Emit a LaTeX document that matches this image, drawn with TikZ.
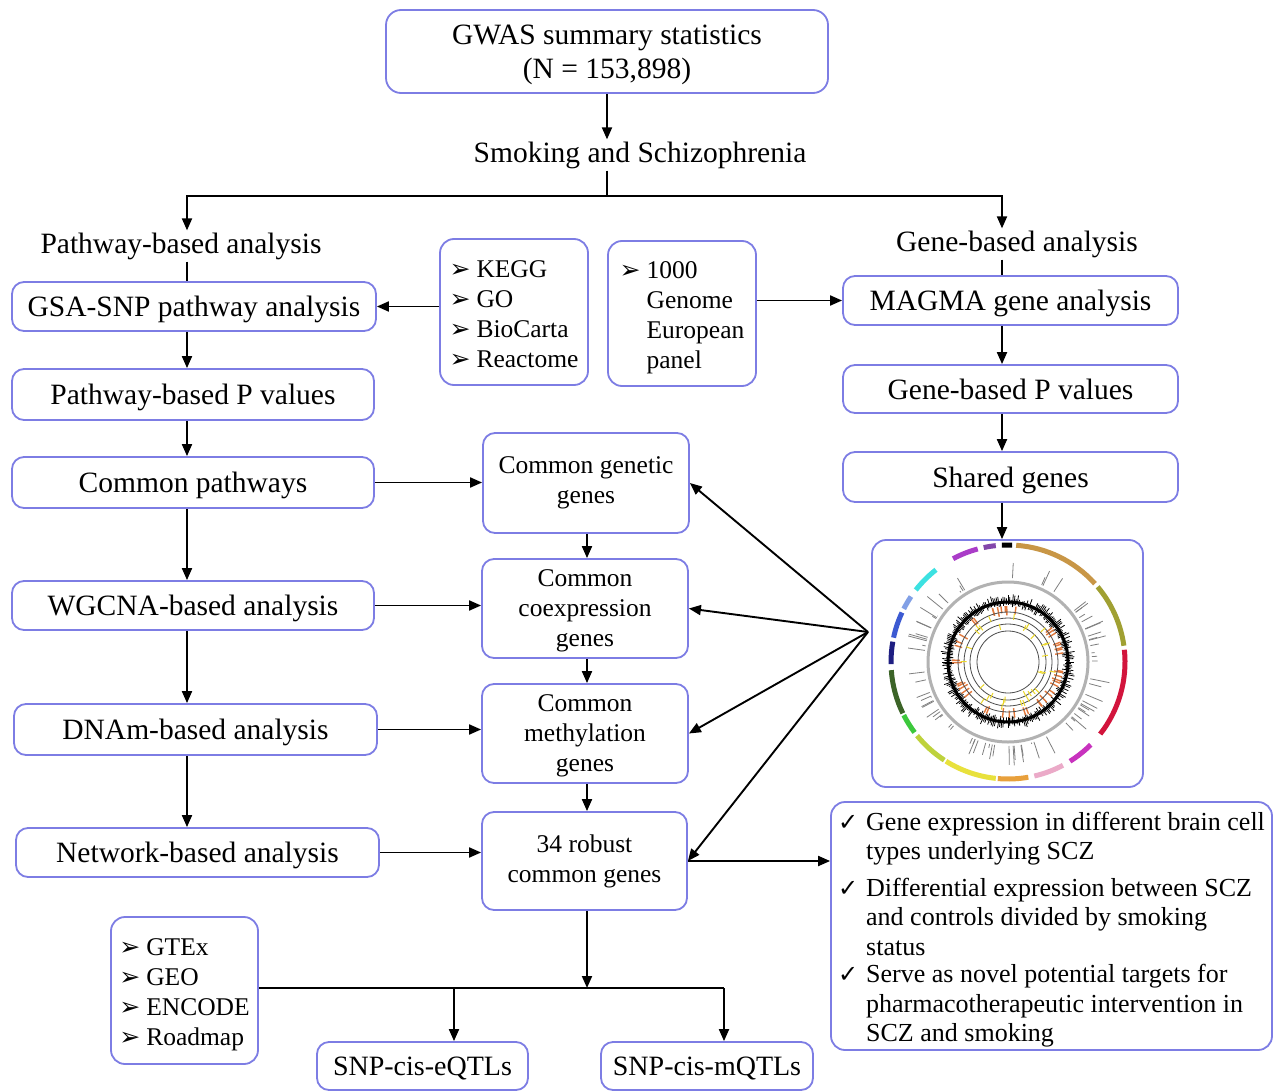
\documentclass[tikz,border=0pt]{standalone}
\usepackage{fontspec}
\setmainfont{Liberation Serif}
\newfontfamily\dvs{DejaVu Sans}
\usetikzlibrary{arrows.meta}
\definecolor{bord}{RGB}{125,125,228}
\definecolor{ch1}{RGB}{200,150,70}
\definecolor{ch2}{RGB}{160,160,50}
\definecolor{ch3}{RGB}{210,20,60}
\definecolor{ch4}{RGB}{200,50,190}
\definecolor{ch5}{RGB}{235,170,200}
\definecolor{ch6}{RGB}{232,160,60}
\definecolor{ch7}{RGB}{232,225,60}
\definecolor{ch8}{RGB}{190,210,60}
\definecolor{ch9}{RGB}{60,200,60}
\definecolor{ch10}{RGB}{60,100,40}
\definecolor{ch11}{RGB}{30,30,130}
\definecolor{ch12}{RGB}{60,90,210}
\definecolor{ch13}{RGB}{130,160,230}
\definecolor{ch14}{RGB}{60,225,225}
\definecolor{ch15}{RGB}{170,60,200}
\definecolor{ch16}{RGB}{130,70,170}
\definecolor{orng}{RGB}{225,120,60}
\definecolor{yel}{RGB}{235,215,40}
\newcommand\mk{{\dvs\fontsize{25}{20}\selectfont ➢}}
\newcommand\ck{{\dvs\fontsize{24}{20}\selectfont ✓}}
\newcommand\lowered[1]{\raisebox{-4pt}[\height][\depth]{#1}}
\begin{document}
\begin{tikzpicture}[x=1pt,y=-1pt,
  box/.style={draw=bord,line width=1.8pt,rounded corners=12pt,align=center,inner sep=0pt,fill=white},
  bigfont/.style={font=\fontsize{29.5}{34}\selectfont},
  big/.style={bigfont,text depth=0pt},
  mid/.style={font=\fontsize{25.5}{30}\selectfont},
  arr/.style={line width=1.9pt,-{Triangle[length=12pt,width=10pt]}},
  ln/.style={line width=1.9pt},
  lbl/.style={bigfont,inner sep=2pt}]
\useasboundingbox[fill=white] (0,0) rectangle (1276,1091);

\coordinate (lc) at (187,0);
\coordinate (mc) at (587,0);
\coordinate (rc) at (1002,0);
\coordinate (sp) at (607,196);
\coordinate (cv) at (868,632);
\coordinate (bj) at (587,988);
\coordinate (ea) at (454,988);
\coordinate (ma) at (724,988);

% top
\node[box,big,minimum width=442pt,minimum height=83pt,rounded corners=15pt] (gwas) at (607,51.5) {GWAS summary statistics\\(N = 153,898)};
\node[lbl] (smk) at (640,155) {Smoking and Schizophrenia};
\node[lbl] (pwt) at (181,246) {Pathway-based analysis};
\node[lbl] (gbt) at (1017,244) {Gene-based analysis};

% left column
\node[box,big,minimum width=364pt,minimum height=49pt] (gsa) at (194,306.5) {GSA-SNP pathway analysis};
\node[box,big,minimum width=362pt,minimum height=51pt] (ppv) at (193,394.5) {Pathway-based P values};
\node[box,big,minimum width=362pt,minimum height=51pt] (cp) at (193,482.5) {Common pathways};
\node[box,big,minimum width=362pt,minimum height=49pt] (wg) at (193,605.5) {WGCNA-based analysis};
\node[box,big,minimum width=363pt,minimum height=51pt] (dn) at (195.5,729.5) {DNAm-based analysis};
\node[box,big,minimum width=363pt,minimum height=49pt] (nw) at (197.5,852.5) {Network-based analysis};

% database boxes
\node[box,mid,minimum width=148pt,minimum height=146pt,rounded corners=14pt] (kegg) at (514,312) {\lowered{\begin{tabular}{@{}l@{\hspace{6pt}}l@{}}\mk&KEGG\\\mk&GO\\\mk&BioCarta\\\mk&Reactome\end{tabular}}};
\node[box,mid,minimum width=148pt,minimum height=145pt,rounded corners=14pt] (kg) at (682,313.5) {\lowered{\begin{tabular}{@{}l@{\hspace{6pt}}l@{}}\mk&1000\\&Genome\\&European\\&panel\end{tabular}}};

% right column
\node[box,big,minimum width=335pt,minimum height=49pt] (magma) at (1010.5,300.5) {MAGMA gene analysis};
\node[box,big,minimum width=335pt,minimum height=48pt] (gpv) at (1010.5,389) {Gene-based P values};
\node[box,big,minimum width=335pt,minimum height=50pt] (shg) at (1010.5,477) {Shared genes};
\node[box,minimum width=271pt,minimum height=247pt,rounded corners=14pt] (circ) at (1007.5,663.5) {};

% middle column
\node[box,mid,minimum width=206pt,minimum height=100pt] (cgg) at (586,483) {Common genetic\\genes};
\node[box,mid,text depth=0pt,minimum width=206pt,minimum height=99pt] (coex) at (585,608.5) {Common\\coexpression\\genes};
\node[box,mid,text depth=0pt,minimum width=206pt,minimum height=99pt] (meth) at (585,733.5) {Common\\methylation\\genes};
\node[box,mid,minimum width=205pt,minimum height=98pt] (rob) at (584.5,861) {34 robust\\common genes};

% outcome list
\node[box,font=\fontsize{26}{29.5}\selectfont,minimum width=441pt,minimum height=248pt,rounded corners=14pt] (lst) at (1051.5,926) {\lowered{\begin{tabular}{@{}l@{\hspace{8pt}}l@{}}\ck & Gene expression in different brain cell\\ & types underlying SCZ\\[7pt] \ck & Differential expression between SCZ\\ & and controls divided by smoking\\ & status\\[-2pt] \ck & Serve as novel potential targets for\\ & pharmacotherapeutic intervention in\\ & SCZ and smoking\end{tabular}}};

% bottom
\node[box,mid,minimum width=147pt,minimum height=147pt,rounded corners=14pt] (gtex) at (184.5,990.5) {\lowered{\begin{tabular}{@{}l@{\hspace{6pt}}l@{}}\mk&GTEx\\\mk&GEO\\\mk&ENCODE\\\mk&Roadmap\end{tabular}}};
\node[box,font=\fontsize{28}{32}\selectfont,text depth=0pt,minimum width=211pt,minimum height=48pt] (eq) at (422.5,1066) {SNP-cis-eQTLs};
\node[box,font=\fontsize{28}{32}\selectfont,text depth=0pt,minimum width=212pt,minimum height=48pt] (mq) at (707,1066) {SNP-cis-mQTLs};

% connectors top
\draw[arr] (gwas.south) -- (gwas.south |- smk.north);
\draw[ln] (gwas.south |- smk.south) -- (sp);
\draw[arr] (sp) -| (lc |- pwt.north);
\draw[arr] (sp) -| (rc |- gbt.north);
\draw[ln] (lc |- pwt.south) -- (lc |- gsa.north);
\draw[ln] (rc |- gbt.south) -- (rc |- magma.north);

% left column arrows
\draw[arr] (gsa.south -| lc) -- (ppv.north -| lc);
\draw[arr] (ppv.south -| lc) -- (cp.north -| lc);
\draw[arr] (cp.south -| lc) -- (wg.north -| lc);
\draw[arr] (wg.south -| lc) -- (dn.north -| lc);
\draw[arr] (dn.south -| lc) -- (nw.north -| lc);
\draw[arr] (kegg.west |- gsa.east) -- (gsa.east);
\draw[arr] (kg.east |- magma.west) -- (magma.west);

% right column arrows
\draw[arr] (magma.south -| rc) -- (gpv.north -| rc);
\draw[arr] (gpv.south -| rc) -- (shg.north -| rc);
\draw[arr] (shg.south -| rc) -- (circ.north -| rc);

% middle column arrows
\draw[arr] (cgg.south -| mc) -- (coex.north -| mc);
\draw[arr] (coex.south -| mc) -- (meth.north -| mc);
\draw[arr] (meth.south -| mc) -- (rob.north -| mc);

% horizontal arrows
\draw[arr] (cp.east) -- (cp.east -| cgg.west);
\draw[arr] (wg.east) -- (wg.east -| coex.west);
\draw[arr] (dn.east) -- (dn.east -| meth.west);
\draw[arr] (nw.east) -- (nw.east -| rob.west);

% converging arrows from circos
\draw[arr] (cv) -- (cgg.east);
\draw[arr] (cv) -- (coex.east);
\draw[arr] (cv) -- (meth.east);
\draw[arr] (cv) -- (rob.east);
\draw[arr] (rob.east) -- (rob.east -| lst.west);

% bottom arrows
\draw[arr] (rob.south -| mc) -- (bj);
\draw[ln] (gtex.east |- bj) -- (ma);
\draw[arr] (ea) -- (ea |- eq.north);
\draw[arr] (ma) -- (ma |- mq.north);

% circos plot
\begin{scope}[shift={(1008,662)}]
  \foreach \a/\b/\c in {88/93/black,96/102/ch16,105/118/ch15,128/142/ch14,146/153/ch13,155/168/ch12,170/181/ch11,184/206/ch10,207/217/ch9,219/237/ch8,238/264/ch7,265/280/ch6,283/298/ch5,302/315/ch4,322/366/ch3,8/40/ch2,42/86/ch1}
    \draw[line width=5pt,\c] (\a:117pt) arc[start angle=\a,end angle=\b,radius=117pt];
  \draw[black!30,line width=3pt] (0pt,0pt) circle[radius=80pt];
  \pgfmathsetseed{3}
  \foreach \i in {1,...,75}{
    \pgfmathsetmacro\t{rnd*360}
    \pgfmathsetmacro\l{84+rnd*20}
    \draw[black!50,line width=0.8pt] (\t:84pt) -- (\t:\l pt);
  }
  \draw[black,line width=3pt] (0pt,0pt) circle[radius=60pt];
  \foreach \t in {0,1.5,...,358.5}{
    \pgfmathsetmacro\o{61+rnd*7}
    \pgfmathsetmacro\n{59-rnd*5}
    \draw[black,line width=0.8pt] (\t:\n pt) -- (\t:\o pt);
  }
  \foreach \i in {1,...,45}{
    \pgfmathsetmacro\t{rnd*360}
    \pgfmathsetmacro\n{46+rnd*4}
    \draw[orng,line width=1.4pt] (\t:\n pt) -- (\t:56pt);
  }
  \foreach \r in {50,44,38,31}
    \draw[black!70,line width=0.8pt] (0pt,0pt) circle[radius=\r pt];
  \foreach \i in {1,...,32}{
    \pgfmathsetmacro\t{rnd*360}
    \pgfmathsetmacro\n{31+rnd*14}
    \pgfmathsetmacro\o{\n+6}
    \draw[yel,line width=1pt] (\t:\n pt) -- (\t:\o pt);
  }
\end{scope}
\end{tikzpicture}
\end{document}
